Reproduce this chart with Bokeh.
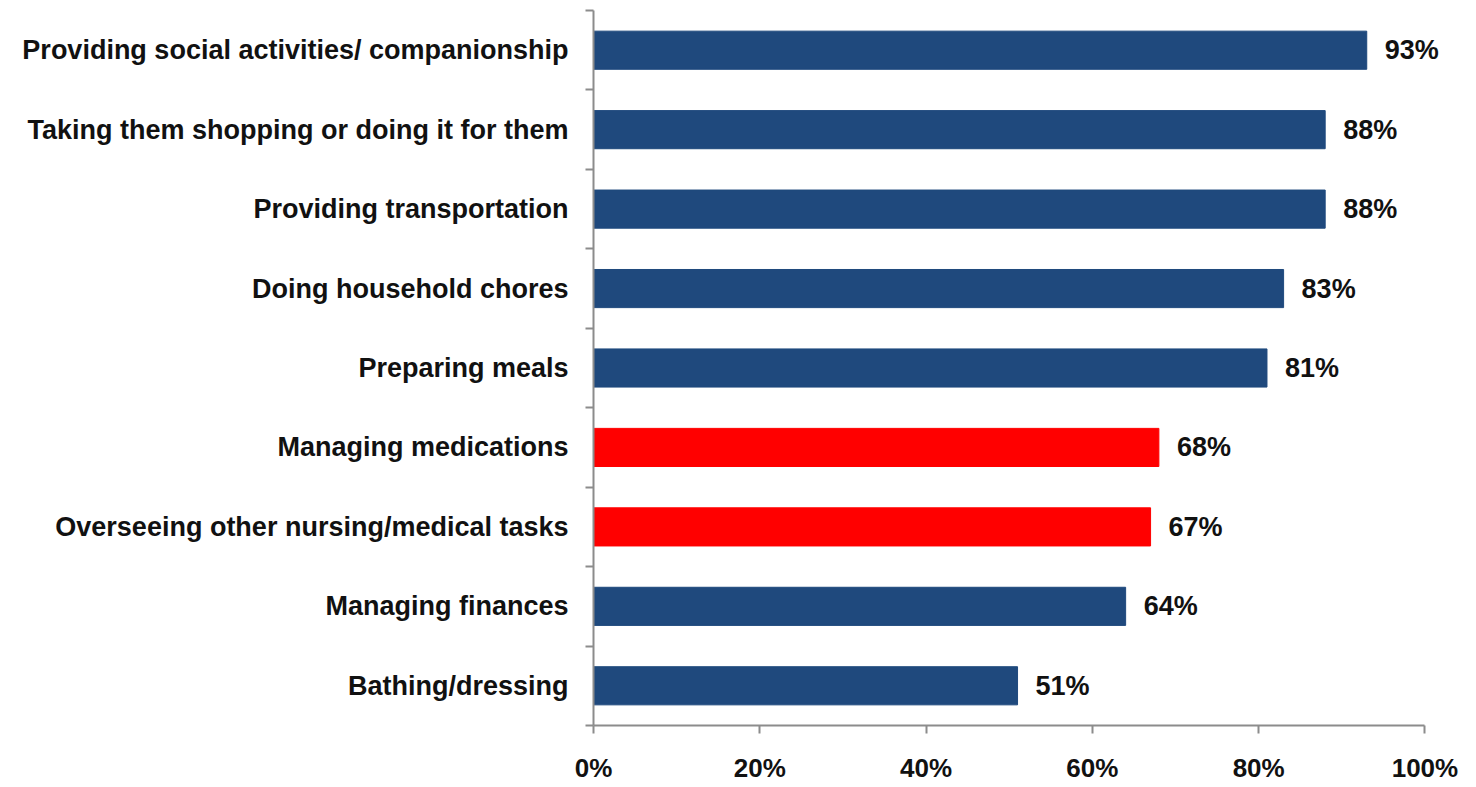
from bokeh.plotting import figure
from bokeh.models import ColumnDataSource, FixedTicker, Range1d
from bokeh.core.properties import value
from bokeh.embed import file_html
from bokeh.resources import INLINE

categories = [
    "Providing social activities/ companionship",
    "Taking them shopping or doing it for them",
    "Providing transportation",
    "Doing household chores",
    "Preparing meals",
    "Managing medications",
    "Overseeing other nursing/medical tasks",
    "Managing finances",
    "Bathing/dressing",
]
values = [93, 88, 88, 83, 81, 68, 67, 64, 51]
highlight = [False, False, False, False, False, True, True, False, False]
x_ticks = [0, 20, 40, 60, 80, 100]

FONT = "Liberation Sans"
NAVY = "#1f497d"
RED = "#ff0000"
TXT = "#111111"

n = len(categories)
ypos = [n - 1 - i for i in range(n)]
colors = [RED if h else NAVY for h in highlight]
labels = [f"{v}%" for v in values]

src = ColumnDataSource(dict(y=ypos, v=values, c=colors, lab=labels))

p = figure(width=1476, height=787, output_backend="svg", toolbar_location=None,
           x_range=Range1d(0, 106.2), y_range=Range1d(-0.5, n - 0.5),
           min_border_left=593, min_border_right=0, min_border_top=10, min_border_bottom=62)
p.outline_line_color = None
p.grid.grid_line_color = None
p.background_fill_color = "white"
p.border_fill_color = "white"

p.hbar(y="y", right="v", left=0, height=0.48, color="c", source=src)
p.text(x="v", y="y", text="lab", source=src, x_offset=18, text_align="left",
       text_baseline="middle", text_font=value(FONT), text_font_style="bold",
       text_font_size="27px", text_color=TXT)

# x axis
p.xaxis.bounds = (0, 100)
p.xaxis.ticker = FixedTicker(ticks=x_ticks)
p.xaxis.major_label_overrides = {t: f"{t}%" for t in x_ticks}
p.xaxis.axis_line_color = "#8c8c8c"
p.xaxis.axis_line_width = 2
p.xaxis.major_tick_line_color = "#8c8c8c"
p.xaxis.major_tick_line_width = 2
p.xaxis.major_tick_out = 8
p.xaxis.major_tick_in = 0
p.xaxis.minor_tick_line_color = None
p.xaxis.major_label_standoff = 19
p.xaxis.major_label_text_font = FONT
p.xaxis.major_label_text_font_style = "bold"
p.xaxis.major_label_text_font_size = "26px"
p.xaxis.major_label_text_color = TXT

# y axis
p.yaxis.ticker = FixedTicker(ticks=ypos, minor_ticks=[i - 0.5 for i in range(n + 1)])
p.yaxis.major_label_overrides = {y: c for y, c in zip(ypos, categories)}
p.yaxis.axis_line_color = "#8c8c8c"
p.yaxis.axis_line_width = 2
p.yaxis.major_tick_line_color = None
p.yaxis.minor_tick_line_color = "#8c8c8c"
p.yaxis.minor_tick_line_width = 2
p.yaxis.minor_tick_out = 8
p.yaxis.minor_tick_in = 0
p.yaxis.major_label_standoff = 17
p.yaxis.major_label_text_font = FONT
p.yaxis.major_label_text_font_style = "bold"
p.yaxis.major_label_text_font_size = "27px"
p.yaxis.major_label_text_color = TXT

open("out.html", "w").write(file_html(p, INLINE))
